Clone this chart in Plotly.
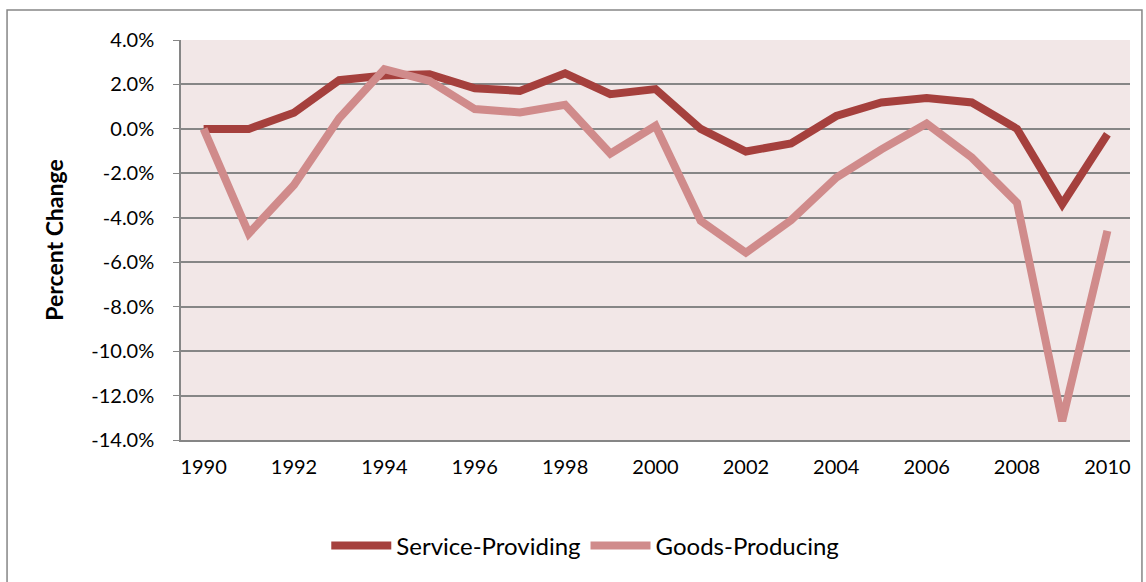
import plotly.graph_objects as go

# chart data
years = list(range(1990, 2011))
service_providing = [0.0, 0.0, 0.73, 2.19, 2.4, 2.46, 1.83, 1.71, 2.5, 1.56, 1.79,
                     0.0, -1.02, -0.65, 0.58, 1.19, 1.39, 1.19, 0.0, -3.39, -0.24]
goods_producing = [0.0, -4.71, -2.52, 0.48, 2.69, 2.16, 0.89, 0.74, 1.08, -1.11, 0.14,
                   -4.14, -5.57, -4.11, -2.19, -0.92, 0.24, -1.29, -3.32, -13.15, -4.59]
y_ticks = [4, 2, 0, -2, -4, -6, -8, -10, -12, -14]
y_labels = [f"{v:.1f}%" for v in y_ticks]

font_family = "Lato, 'Open Sans', sans-serif"

fig = go.Figure()
fig.add_trace(go.Scatter(x=years, y=service_providing, mode="lines", name="Service-Providing",
                         line=dict(color="#A5403D", width=8)))
fig.add_trace(go.Scatter(x=years, y=goods_producing, mode="lines", name="Goods-Producing",
                         line=dict(color="#D08B8B", width=8)))

# outer chart frame (Excel-style border)
fig.add_shape(type="rect", xref="paper", yref="paper",
              x0=-0.1833, x1=1.0126, y0=-0.37, y1=1.075,
              line=dict(color="#868686", width=1.5), fillcolor="rgba(0,0,0,0)", layer="below")

fig.update_layout(
    width=1146, height=582,
    margin=dict(l=181, r=16, t=40, b=142),
    paper_bgcolor="white",
    plot_bgcolor="#F2E7E7",
    font=dict(family=font_family, size=20, color="black"),
    showlegend=True,
    legend=dict(orientation="h", x=0.426, xanchor="center", y=-0.265, yanchor="middle",
                font=dict(size=24), itemwidth=60, tracegroupgap=0),
)
fig.update_xaxes(range=[1989.5, 2010.5], tickmode="array", tickvals=years[::2],
                 ticktext=[str(y) for y in years[::2]], showgrid=False,
                 showline=True, linecolor="#868686", linewidth=1.5, ticks="",
                 zeroline=False, ticklabelstandoff=8, automargin=False)
fig.update_yaxes(range=[-14, 4], tickmode="array", tickvals=y_ticks, ticktext=y_labels,
                 showgrid=True, gridcolor="#868686", gridwidth=1.5,
                 showline=True, linecolor="#868686", linewidth=1.5,
                 ticks="outside", ticklen=6, tickcolor="#868686",
                 zeroline=False, ticklabelstandoff=15, automargin=False,
                 title=dict(text="<b>Percent Change</b>", font=dict(size=23), standoff=21))

# drop the default page margin so the figure sits at the window origin
fig.write_html("out.html", post_script="document.body.style.margin='0';",
               config={"displayModeBar": False})
